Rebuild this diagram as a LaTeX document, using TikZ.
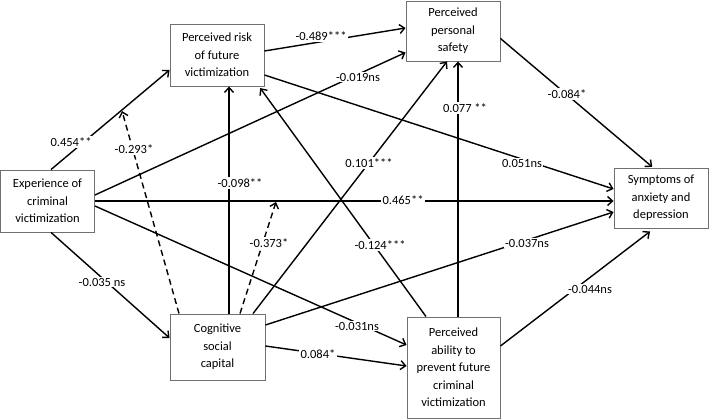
\documentclass[tikz,border=0pt]{standalone}
\usepackage{fontspec}
\setmainfont{Carlito}
\usetikzlibrary{arrows.meta,calc}
\definecolor{boxgray}{RGB}{112,112,112}
\begin{document}
\begin{tikzpicture}[x=1pt,y=-1pt,
  box/.style={draw=boxgray, line width=0.9pt, align=center, inner sep=0pt,
    font=\fontsize{12.5}{17.5}\selectfont},
  lbl/.style={fill=white, inner sep=1.2pt, font=\fontsize{12.5}{15}\selectfont},
  conn/.style={line width=1.4pt, -{Straight Barb[length=5pt,width=9pt]}},
  dconn/.style={conn, dash pattern=on 6pt off 4pt}]
\useasboundingbox (0,0) rectangle (709,419);

\node[box, minimum width=94pt, minimum height=62pt] (exp) at (47.5,201) {Experience of\\criminal\\victimization};
\node[box, minimum width=94pt, minimum height=62pt] (risk) at (217,55) {Perceived risk\\of future\\victimization};
\node[box, minimum width=94pt, minimum height=60pt] (safety) at (453,31) {Perceived\\personal\\safety};
\node[box, minimum width=95pt, minimum height=66pt] (cog) at (217.5,347) {Cognitive\\social\\capital};
\node[box, minimum width=93pt, minimum height=101pt] (ability) at (453.5,367.5) {Perceived\\ability to\\prevent future\\criminal\\victimization};
\node[box, minimum width=94pt, minimum height=60pt] (symp) at (661,198) {Symptoms of\\anxiety and\\depression};

\coordinate (m1) at (122,111);
\coordinate (m2) at (276,202);

% connectors
\draw[conn] ([xshift=3.5pt]exp.north) -- ([yshift=-15pt]risk.west);
\draw[dconn] ([xshift=-38.5pt]cog.north) -- (m1);
\draw[conn] ([yshift=6pt]exp.east) -- ([yshift=-21.5pt]safety.west);
\draw[conn] ([yshift=4pt]risk.east) -- ([yshift=3pt]safety.west);
\draw[conn] ([yshift=-20pt]risk.east) -- ([yshift=9pt]symp.west);
\draw[conn, shorten >=1pt] ([yshift=-7.5pt]safety.east) -- ([xshift=-8pt]symp.north);
\draw[conn] (exp.east) -- (exp.east -| symp.west);
\draw[conn] ([xshift=11.5pt]cog.north) -- ([xshift=12pt]risk.south);
\draw[dconn] ([xshift=22.5pt]cog.north) -- (m2);
\draw[conn] ([xshift=35.5pt]cog.north) -- ([xshift=-6pt]safety.south);
\draw[conn, shorten >=2pt] ([xshift=-27.5pt]ability.north) -- ([xshift=42pt]risk.south);
\draw[conn] ([xshift=4.5pt]ability.north) -- ([xshift=5pt]safety.south);
\draw[conn] ([yshift=-5pt]exp.east) -- ([yshift=22.5pt]ability.west);
\draw[conn] ([yshift=1pt]cog.east) -- ([yshift=1.5pt]ability.west);
\draw[conn] ([yshift=22pt]cog.east) -- ([yshift=-14pt]symp.west);
\draw[conn, shorten >=5pt] ([yshift=21.5pt]ability.east) -- ([xshift=-7pt]symp.south);
\draw[conn] ([xshift=3.5pt]exp.south) -- ([yshift=9pt]cog.west);

% labels
\node[lbl] (l1) at (71,142) {0.454**};
\node[lbl] (l2) at (134,149) {-0.293*};
\node[lbl] (l3) at (358,77) {-0.019ns};
\node[lbl] (l4) at (321,36) {-0.489***};
\node[lbl] (l5) at (522,163) {0.051ns};
\node[lbl] (l6) at (567,94) {-0.084*};
\node[lbl] (l7) at (403,200) {0.465**};
\node[lbl] (l8) at (240,183) {-0.098**};
\node[lbl] (l9) at (269,243) {-0.373*};
\node[lbl] (l10) at (369,163) {0.101***};
\node[lbl] (l11) at (380,245) {-0.124***};
\node[lbl] (l12) at (465,108) {0.077 **};
\node[lbl] (l13) at (357,326) {-0.031ns};
\node[lbl] (l14) at (318,354) {0.084*};
\node[lbl] (l15) at (527,243) {-0.037ns};
\node[lbl] (l16) at (590,289) {-0.044ns};
\node[lbl] (l17) at (102,282) {-0.035 ns};
\end{tikzpicture}
\end{document}
